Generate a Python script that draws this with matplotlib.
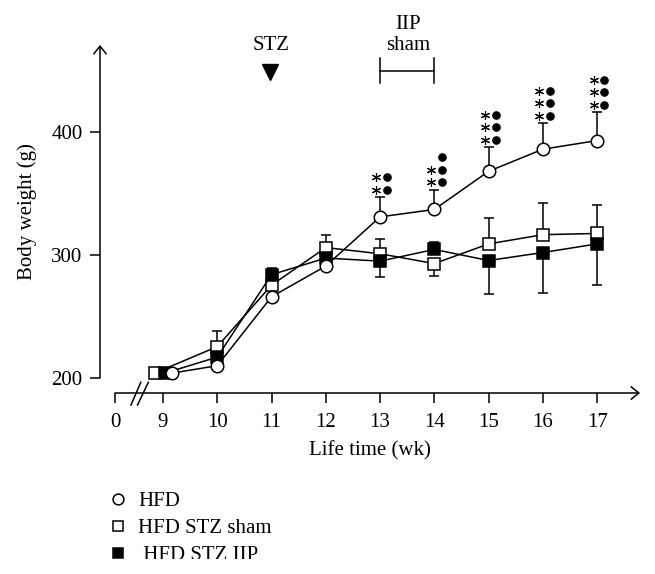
import numpy as np
import matplotlib.pyplot as plt
from matplotlib.lines import Line2D
from matplotlib.patches import Rectangle
from matplotlib.transforms import offset_copy

plt.rcParams['font.family'] = ['Liberation Serif', 'DejaVu Serif']
plt.rcParams['font.size'] = 15

# Дані: тижні та маса тіла (г)
weeks = np.array([9, 10, 11, 12, 13, 14, 15, 16, 17])

hfd_x = np.array([9.17, 10, 11, 12, 13, 14, 15, 16, 17])
hfd = np.array([204, 210, 266, 291, 331, 337, 368, 386, 393])
hfd_lo = np.array([0, 0, 0, 0, 0, 0, 0, 0, 0])
hfd_hi = np.array([0, 0, 0, 0, 16, 16, 19.5, 21, 23])

sham_x = np.array([8.85, 10, 11, 12, 13, 14, 15, 16, 17])
sham = np.array([204, 225.5, 275.5, 306, 301, 293, 309, 316.5, 317.5])
sham_lo = np.array([0, 0, 0, 0, 0, 10, 0, 0, 0])
sham_hi = np.array([0, 13, 0, 10, 12, 0, 21, 25.5, 23])

iip_x = np.array([9.04, 10, 11, 12, 13, 14, 15, 16, 17])
iip = np.array([204, 217, 284, 297.5, 295, 304.5, 295.5, 302, 309])
iip_lo = np.array([0, 0, 0, 0, 13, 0, 27.5, 33, 33.5])
iip_hi = np.array([0, 0, 5.5, 0, 0, 6, 0, 0, 0])

# Позначки значущості над HFD
sig_weeks = [13, 14, 15, 16, 17]
sig_stars = [2, 2, 3, 3, 3]
sig_dots = [2, 3, 3, 3, 3]

x_ticks = [8.115, 9, 10, 11, 12, 13, 14, 15, 16, 17]
x_labels = ['0', '9', '10', '11', '12', '13', '14', '15', '16', '17']
y_ticks = [200, 300, 400]

fig = plt.figure(figsize=(6.55, 5.74), dpi=100)
ax = fig.add_axes([100 / 655, 181 / 574, 540 / 655, 348 / 574])
ax.set_xlim(7.839, 17.79)
ax.set_ylim(187.8, 470.7)

for s in ax.spines.values():
    s.set_visible(False)

lw = 1.1
arrow = dict(arrowstyle='->, head_length=0.55, head_width=0.45', lw=lw, color='k',
             shrinkA=0, shrinkB=0, mutation_scale=10)
ax.annotate('', xy=(0, 470.7), xytext=(0, 200), xycoords=ax.get_yaxis_transform(),
            arrowprops=arrow, annotation_clip=False)
ax.annotate('', xy=(17.79, 0), xytext=(8.115, 0), xycoords=ax.get_xaxis_transform(),
            arrowprops=arrow, annotation_clip=False)

# Розрив осі x
ax.plot([8.41, 8.59], [178, 196.5], color='k', lw=lw, clip_on=False)
ax.plot([8.53, 8.73], [178, 196.5], color='k', lw=lw, clip_on=False)

ax.set_xticks(x_ticks)
ax.set_xticklabels(x_labels)
ax.set_yticks(y_ticks)
ax.tick_params(axis='both', direction='out', length=7.5, width=lw, labelsize=15)
ax.tick_params(axis='x', pad=7)
ax.tick_params(axis='y', pad=5)

ax.set_xlabel('Life time (wk)', fontsize=15)
ax.set_ylabel('Body weight (g)', fontsize=15)
ax.xaxis.set_label_coords(0.5, -0.138)
ax.yaxis.set_label_coords(-0.117, 0.52)

eb = dict(fmt='none', ecolor='k', elinewidth=lw, capsize=3.8, capthick=lw, zorder=1)
ax.errorbar(sham_x, sham, yerr=[sham_lo, sham_hi], **eb)
ax.errorbar(iip_x, iip, yerr=[iip_lo, iip_hi], **eb)
ax.errorbar(hfd_x, hfd, yerr=[hfd_lo, hfd_hi], **eb)

ax.plot(sham_x, sham, color='k', lw=lw, marker='s', ms=8.5, mfc='white', mec='k',
        mew=lw, zorder=3, clip_on=False)
ax.plot(iip_x, iip, color='k', lw=lw, marker='s', ms=8.5, mfc='black', mec='k',
        mew=lw, zorder=4, clip_on=False)
ax.plot(hfd_x, hfd, color='k', lw=lw, marker='o', ms=9, mfc='white', mec='k',
        mew=lw, zorder=5, clip_on=False)

# Зірочки та крапки
for w, ns, nd in zip(sig_weeks, sig_stars, sig_dots):
    i = list(weeks).index(w)
    top = hfd[i] + hfd_hi[i]
    for k in range(ns):
        tr = offset_copy(ax.transData, fig=fig, x=-2.6, y=5.3 + 9.0 * k, units='points')
        ax.plot([w], [top], marker=(6, 2, 0), ms=6.5, mew=0.8, color='k', transform=tr,
                clip_on=False)
    for k in range(nd):
        tr = offset_copy(ax.transData, fig=fig, x=5.3, y=5.3 + 9.0 * k, units='points')
        ax.plot([w], [top], marker='o', ms=5.2, color='k', transform=tr, clip_on=False)

# STZ та IIP/sham
ax.text(11, 466.5, 'STZ', ha='center', va='baseline', fontsize=15, clip_on=False)
ax.plot([10.98], [448.4], marker='v', ms=12, color='k', clip_on=False)
ax.plot([13, 14], [449.8, 449.8], color='k', lw=lw, clip_on=False)
ax.plot([13, 13], [439.5, 460], color='k', lw=lw, clip_on=False)
ax.plot([14, 14], [439.5, 460], color='k', lw=lw, clip_on=False)
ax.text(13.52, 484, 'IIP', ha='center', va='baseline', fontsize=15, clip_on=False)
ax.text(13.52, 466.5, 'sham', ha='center', va='baseline', fontsize=15, clip_on=False)

# Легенда
leg_labels = ['HFD', 'HFD STZ sham', ' HFD STZ IIP']
leg_markers = ['o', 's', 's']
leg_fill = ['white', 'white', 'black']
for k, (lab, m, fc) in enumerate(zip(leg_labels, leg_markers, leg_fill)):
    yc = 1 - (499.3 + 27 * k) / 574
    fig.add_artist(Line2D([118 / 655], [yc], marker=m, ms=7.8, mfc=fc, mec='k', mew=1.1,
                          transform=fig.transFigure))
    fig.text(138 / 655, 1 - (505.7 + 27 * k) / 574, lab, fontsize=15, va='baseline')

fig.add_artist(Rectangle((0, 0), 1, 15 / 574, transform=fig.transFigure,
                         facecolor='white', edgecolor='none', zorder=10))

fig.savefig('out.png', dpi=100)
